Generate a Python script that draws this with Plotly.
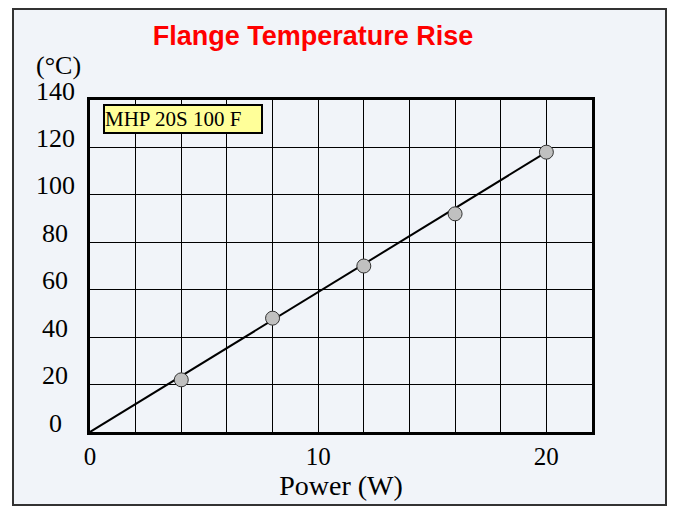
import plotly.graph_objects as go

power = [4, 8, 12, 16, 20]
temp_rise = [22, 48, 70, 92, 118]
fit_x = [0, 20]
fit_y = [0, 118]
series_name = "MHP 20S 100 F"
x_ticks = [0, 10, 20]
y_ticks = [0, 20, 40, 60, 80, 100, 120, 140]

serif = "Liberation Serif, Times New Roman, serif"

fig = go.Figure()
fig.add_trace(go.Scatter(x=fit_x, y=fit_y, mode="lines",
                         line=dict(color="black", width=2), showlegend=False,
                         hoverinfo="skip"))
fig.add_trace(go.Scatter(x=power, y=temp_rise, mode="markers", name=series_name,
                         marker=dict(size=14, color="#c0c0c0",
                                     line=dict(color="#333333", width=1)),
                         showlegend=False))

L, R, T, B = 90, 81, 100, 76
W, H = 673, 508
pw, ph = W - L - R, H - T - B

def px_x(p):
    return (p - L) / pw

def px_y(p):
    return (H - B - p) / ph

annotations = [
    dict(text="(°C)", xref="paper", yref="paper", x=px_x(58), y=px_y(65),
         xanchor="center", yanchor="middle", showarrow=False,
         font=dict(family=serif, size=26, color="black")),
    dict(text=series_name, xref="paper", yref="paper", x=px_x(103), y=px_y(104),
         xanchor="left", yanchor="top", showarrow=False, align="left",
         width=156, height=26,
         bgcolor="#ffff99", bordercolor="black", borderwidth=2, borderpad=0,
         font=dict(family=serif, size=21, color="black")),
]
# y tick labels (centred in their column, as in the reference)
for v in y_ticks:
    annotations.append(dict(text=str(v), xref="paper", yref="y", x=px_x(55), y=v,
                            xanchor="center", yanchor="middle", yshift=9,
                            showarrow=False,
                            font=dict(family=serif, size=26, color="black")))

fig.update_layout(
    width=W, height=H,
    margin=dict(l=L, r=R, t=T, b=B),
    paper_bgcolor="white",
    plot_bgcolor="rgba(0,0,0,0)",
    title=dict(text="<b>Flange Temperature Rise</b>", x=313 / W, xanchor="center",
               y=1 - 36 / H, yanchor="middle",
               font=dict(family="Liberation Sans, Arial, sans-serif", size=27, color="#ff0000")),
    xaxis=dict(range=[0, 22], tickvals=x_ticks, ticktext=[str(v) for v in x_ticks],
               showgrid=False, zeroline=False, ticks="", showline=True, mirror=True,
               linecolor="black", linewidth=3,
               minor=dict(dtick=2, showgrid=True, gridcolor="black", gridwidth=1.3),
               tickfont=dict(family=serif, size=25, color="black"),
               title=dict(text="Power (W)", font=dict(family=serif, size=28, color="black"),
                          standoff=0)),
    yaxis=dict(range=[0, 140], tickvals=y_ticks, showticklabels=False,
               showgrid=True, gridcolor="black", gridwidth=1.3, zeroline=False, ticks="",
               showline=True, mirror=True, linecolor="black", linewidth=3),
    shapes=[dict(type="rect", xref="paper", yref="paper", layer="below",
                 x0=px_x(13), x1=px_x(666), y0=px_y(505), y1=px_y(9),
                 fillcolor="#f1f4f9", line=dict(color="#333333", width=2))],
    annotations=annotations,
)

fig.write_html("out.html", config={"displayModeBar": False},
               post_script="document.body.style.margin='0';document.body.style.padding='0';")
